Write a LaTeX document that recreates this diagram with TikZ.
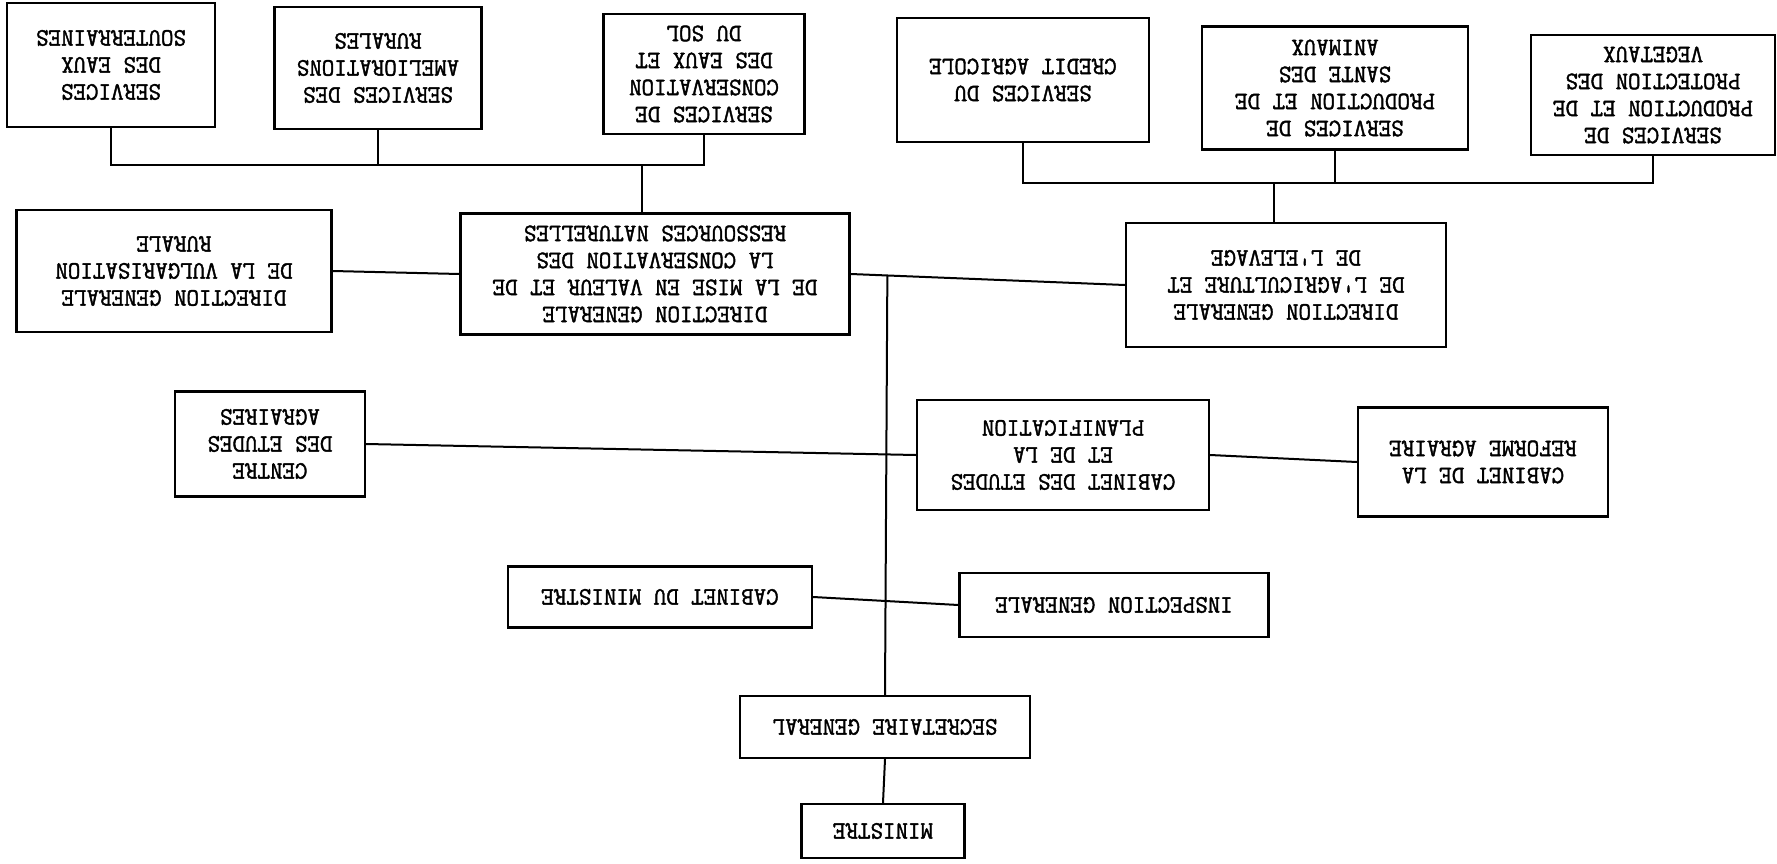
\documentclass[tikz,border=0pt]{standalone}
\usepackage{fontspec}
\setmonofont{Latin Modern Mono}[FakeBold=1.6, FakeStretch=0.97]
\usepackage{tikz}
\usetikzlibrary{calc}
\tikzstyle{orgbox} = [rectangle, draw, line width=2.2pt, inner sep=0pt, align=center, rotate=180, font=\ttfamily\bfseries\fontsize{25}{27}\selectfont]
\tikzstyle{link} = [line width=2pt]

\begin{document}
\begin{tikzpicture}[x=1pt, y=-1pt]
\useasboundingbox (0,0) rectangle (1777,864);

% Services
\node[orgbox, minimum width=208pt, minimum height=124pt] (souter) at (111,65) {SERVICES\\DES EAUX\\SOUTERRAINES};
\node[orgbox, minimum width=207pt, minimum height=122pt] (amelio) at (378,68) {SERVICES DES\\AMELIORATIONS\\RURALES};
\node[orgbox, minimum width=201pt, minimum height=120pt] (consol) at (704,74) {SERVICES DE\\CONSERVATION\\DES EAUX ET\\DU SOL};
\node[orgbox, minimum width=252pt, minimum height=124pt] (credit) at (1023,80) {SERVICES DU\\CREDIT AGRICOLE};
\node[orgbox, minimum width=266pt, minimum height=123pt] (animaux) at (1335,88) {SERVICES DE\\PRODUCTION ET DE\\SANTE DES\\ANIMAUX};
\node[orgbox, minimum width=244pt, minimum height=120pt] (vegetaux) at (1653,95) {SERVICES DE\\PRODUCTION ET DE\\PROTECTION DES\\VEGETAUX};

% Directions generales
\node[orgbox, minimum width=315pt, minimum height=122pt] (dgvr) at (174,271) {DIRECTION GENERALE\\DE LA VULGARISATION\\RURALE};
\node[orgbox, minimum width=389pt, minimum height=121pt] (dgrn) at (655,274) {DIRECTION GENERALE\\DE LA MISE EN VALEUR ET DE\\LA CONSERVATION DES\\RESSOURCES NATURELLES};
\node[orgbox, minimum width=320pt, minimum height=124pt] (dgae) at (1286,285) {DIRECTION GENERALE\\DE L'AGRICULTURE ET\\DE L'ELEVAGE};

% Etudes
\node[orgbox, minimum width=190pt, minimum height=105pt] (centre) at (270,444) {CENTRE\\DES ETUDES\\AGRAIRES};
\node[orgbox, minimum width=292pt, minimum height=110pt] (cabet) at (1063,455) {CABINET DES ETUDES\\ET DE LA\\PLANIFICATION};
\node[orgbox, minimum width=250pt, minimum height=109pt] (reforme) at (1483,462) {CABINET DE LA\\REFORME AGRAIRE};

% Ministere
\node[orgbox, minimum width=304pt, minimum height=61pt] (cabmin) at (660,597) {CABINET DU MINISTRE};
\node[orgbox, minimum width=309pt, minimum height=64pt] (inspect) at (1114,605) {INSPECTION GENERALE};
\node[orgbox, minimum width=290pt, minimum height=62pt] (secgen) at (885,727) {SECRETAIRE GENERAL};
\node[orgbox, minimum width=163pt, minimum height=54pt] (ministre) at (883,831) {MINISTRE};

% Buses to the services
\coordinate (busl) at (642,165);
\coordinate (busr) at (1274,183);
\draw[link] (souter.north) |- (busl) -| (consol.north);
\draw[link] (amelio.north) -- (amelio.north |- busl);
\draw[link] (busl) -- (busl |- dgrn.south);
\draw[link] (credit.north) |- (busr) -| (vegetaux.north);
\draw[link] (animaux.north) -- (animaux.north |- busr);
\draw[link] (busr) -- (busr |- dgae.south);

% Main line
\coordinate (spine) at ($(dgrn.west)!0.134!(dgae.east)$);
\draw[link] (dgvr.west) -- (dgrn.east);
\draw[link] (dgrn.west) -- (dgae.east);
\draw[link] (spine) -- (secgen.south);
\draw[link] (secgen.north) -- (ministre.south);

% Cross connections
\draw[link] (centre.west) -- (cabet.east);
\draw[link] (cabet.west) -- (reforme.east);
\draw[link] (cabmin.west) -- (inspect.east);
\end{tikzpicture}
\end{document}
